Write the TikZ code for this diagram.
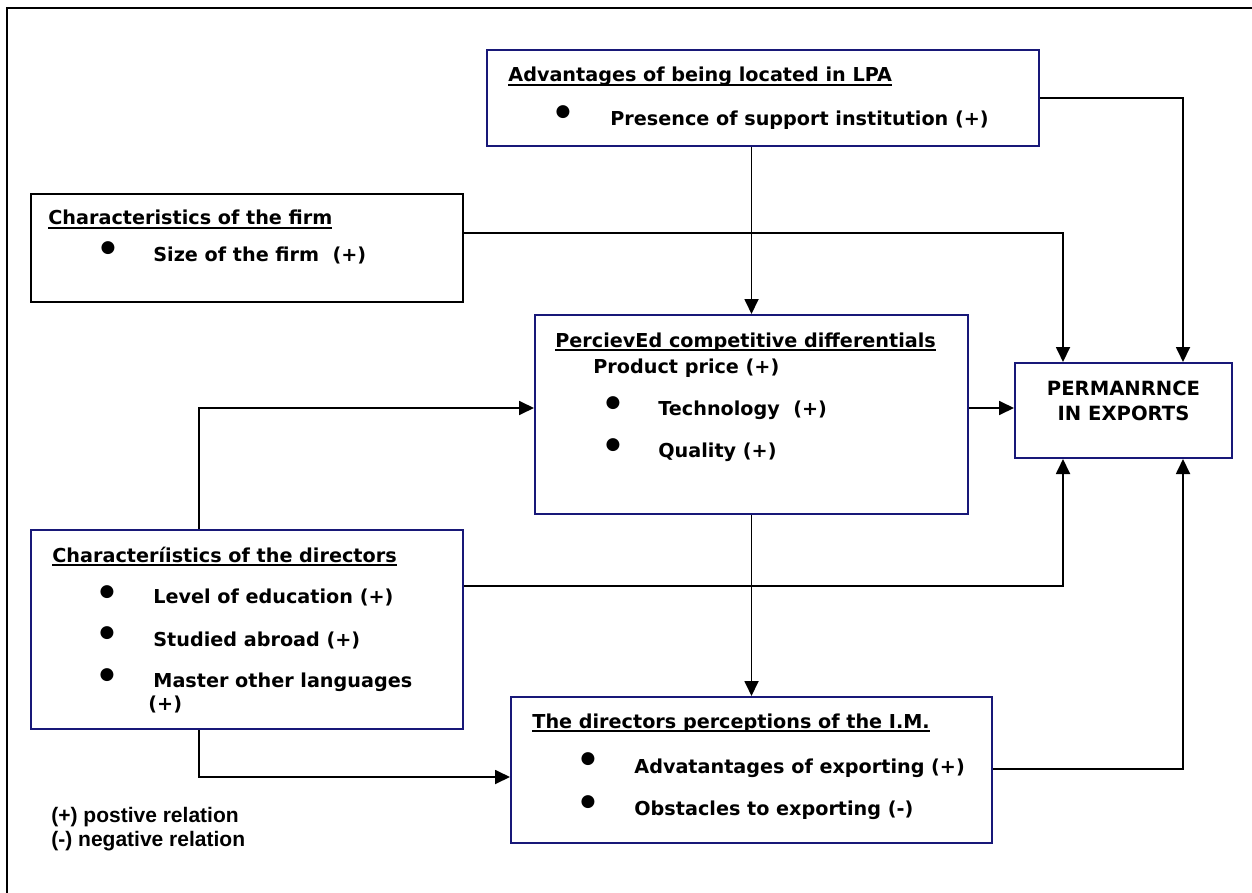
\documentclass[tikz,border=0pt]{standalone}
\usepackage{fontspec}
\setmainfont{DejaVu Sans}
\newfontfamily\legendfont{Liberation Sans}
\newfontfamily\bulletfont{DejaVu Sans}
\newcommand{\ulnx}[1]{\setbox0\hbox{#1}\rlap{\vrule width\wd0 height -1pt depth 2pt}\box0}
\usetikzlibrary{arrows.meta,fit}
\definecolor{navy}{RGB}{24,24,120}
\tikzset{
  nbox/.style={draw=navy, line width=1pt, inner sep=0pt, rectangle},
  kbox/.style={draw=black, line width=1pt, inner sep=0pt, rectangle},
  frameline/.style={draw=black, line width=1.1pt},
  arr/.style={draw=black, line width=0.9pt, -{Triangle[length=7.5pt,width=7pt]}},
  txt/.style={anchor=base west, inner sep=0pt, font=\bfseries\fontsize{9.6}{11}\selectfont},
  ptxt/.style={anchor=base, inner sep=0pt, font=\bfseries\fontsize{9.8}{11}\selectfont},
  leg/.style={anchor=base west, inner sep=0pt, font=\legendfont\bfseries\fontsize{10.5}{12}\selectfont},
  bul/.style={inner sep=0pt, font=\bulletfont\fontsize{8.5}{9}\selectfont}
}
\begin{document}
\begin{tikzpicture}[x=0.5pt,y=-0.5pt]
\useasboundingbox (0,0) rectangle (1252,893);
% outer frame
\coordinate (fTL) at (7,8);
\coordinate (fTR) at (1252,8);
\coordinate (fBL) at (7,893);
\draw[frameline] (fTR) -- (fTL) -- (fBL);
% boxes
\node[nbox, fit={(487,50) (1039,146)}] (lpa) {};
\node[kbox, fit={(31,194) (463,302)}] (firm) {};
\node[nbox, fit={(535,315) (968,514)}] (perc) {};
\node[nbox, fit={(31,530) (463,729)}] (dir) {};
\node[nbox, fit={(511,697) (992,843)}] (im) {};
\node[nbox, fit={(1015,363) (1232,458)}] (perm) {};
% helper coordinates
\coordinate (xR) at (1183,0);
\coordinate (xL) at (1063,0);
\coordinate (xD) at (199,0);
\coordinate (yFirm) at (0,233);
\coordinate (yPerc) at (0,408);
\coordinate (yDir) at (0,586);
\coordinate (yDirB) at (0,777);
\coordinate (yIM) at (0,769);
% connectors
\draw[arr] (perc.north |- lpa.south) -- (perc.north);
\draw[arr] (lpa.east) -| (xR |- perm.north);
\draw[arr] (firm.east |- yFirm) -| (xL |- perm.north);
\draw[arr] (perc.east |- yPerc) -- (perm.west |- yPerc);
\draw[arr] (xD |- dir.north) |- (perc.west |- yPerc);
\draw[arr] (dir.east |- yDir) -| (xL |- perm.south);
\draw[arr] (perc.south) -- (perc.south |- im.north);
\draw[arr] (xD |- dir.south) |- (im.west |- yDirB);
\draw[arr] (im.east |- yIM) -| (xR |- perm.south);
% LPA
\node[txt] (lpaT) at (508,82) {\ulnx{Advantages of being located in LPA}};
\node[bul] (lpaB1) at (563,112) {●};
\node[txt] (lpa1) at (610,126) {Presence of support institution (+)};
% firm
\node[txt] (firmT) at (48,225) {\ulnx{Characteristics of the firm}};
\node[bul] (firmB1) at (108,248) {●};
\node[txt] (firm1) at (153,262) {Size of the firm\ \ (+)};
% perceived
\node[txt] (percT) at (555,347) {\ulnx{PercievEd competitive differentials}};
\node[txt] (perc0) at (593,373) {Product price (+)};
\node[bul] (percB1) at (613,403) {●};
\node[txt] (perc1) at (658,415) {Technology\ \ (+)};
\node[bul] (percB2) at (613,445) {●};
\node[txt] (perc2) at (658,457) {Quality (+)};
% directors
\node[txt] (dirT) at (52,562) {\ulnx{Characteríistics of the directors}};
\node[bul] (dirB1) at (107,592) {●};
\node[txt] (dir1) at (153,603) {Level of education (+)};
\node[bul] (dirB2) at (107,633) {●};
\node[txt] (dir2) at (153,646) {Studied abroad (+)};
\node[bul] (dirB3) at (107,675) {●};
\node[txt] (dir3) at (153,687) {Master other languages};
\node[txt] (dir3b) at (148,710) {(+)};
% I.M.
\node[txt] (imT) at (532,728) {\ulnx{The directors perceptions of the I.M.}};
\node[bul] (imB1) at (588,759) {●};
\node[txt] (im1) at (634,773) {Advatantages of exporting (+)};
\node[bul] (imB2) at (588,802) {●};
\node[txt] (im2) at (634,815) {Obstacles to exporting (-)};
% permanence
\node[ptxt] (permT1) at (1123.5,395) {PERMANRNCE};
\node[ptxt] (permT2) at (1123.5,420) {IN EXPORTS};
% legend
\node[leg] (leg1) at (51,822) {(+) postive relation};
\node[leg] (leg2) at (51,846) {(-) negative relation};
\end{tikzpicture}
\end{document}
